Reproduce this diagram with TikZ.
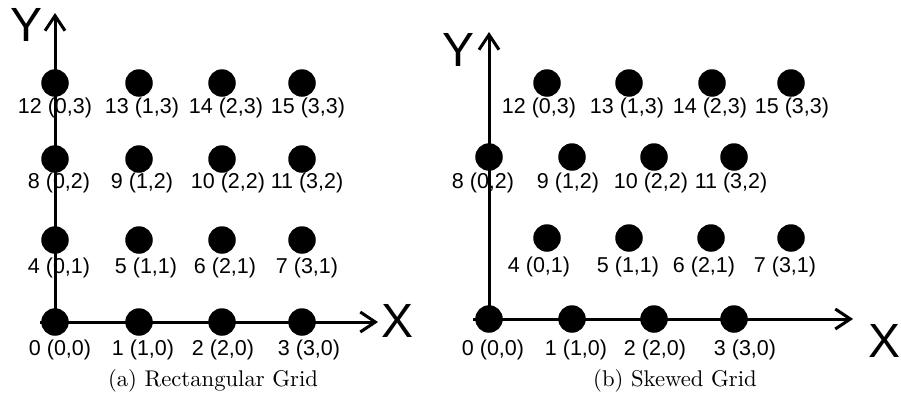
\documentclass[tikz,border=0pt]{standalone}
\usepackage{fontspec}
\newfontfamily\arialf{Liberation Sans}
\newfontfamily\cmten{lmroman10-regular.otf}
\usetikzlibrary{arrows.meta}
\tikzset{
  dot/.style={circle, fill=black, draw=none, minimum size=27.5pt, inner sep=0pt},
  lbl/.style={font=\arialf\fontsize{21.5}{24}\selectfont, inner sep=0pt, anchor=center},
  axislbl/.style={font=\arialf\fontsize{48}{50}\selectfont, inner sep=0pt, anchor=center},
  captext/.style={font=\cmten\fontsize{22.7}{26}\selectfont, inner sep=0pt, anchor=center},
  axisline/.style={line width=3pt, -{Straight Barb[length=15pt, width=20pt]}}
}
\begin{document}
\begin{tikzpicture}[x=1pt,y=-1pt]
\useasboundingbox (0,0) rectangle (901,399);
% ---------- (a) Rectangular grid ----------
\node[lbl] (la12) at (55,108) {12 (0,3)};
\node[lbl] (la13) at (142,108) {13 (1,3)};
\node[lbl] (la14) at (226,108) {14 (2,3)};
\node[lbl] (la15) at (308,108) {15 (3,3)};
\node[lbl] (la8) at (59,183) {8 (0,2)};
\node[lbl] (la9) at (142,183) {9 (1,2)};
\node[lbl] (la10) at (228,183) {10 (2,2)};
\node[lbl] (la11) at (307,183) {11 (3,2)};
\node[lbl] (la4) at (59,268) {4 (0,1)};
\node[lbl] (la5) at (146,268) {5 (1,1)};
\node[lbl] (la6) at (225,268) {6 (2,1)};
\node[lbl] (la7) at (307,268) {7 (3,1)};
\node[lbl] (la0) at (60,350) {0 (0,0)};
\node[lbl] (la1) at (143,350) {1 (1,0)};
\node[lbl] (la2) at (223,350) {2 (2,0)};
\node[lbl] (la3) at (309,350) {3 (3,0)};
\coordinate (aO) at (55,322);
\coordinate (aXs) at (40,322);
\coordinate (aXe) at (378,322);
\coordinate (aYe) at (55,13);
\draw[axisline] (aO) -- (aYe);
\draw[axisline] (aXs) -- (aXe);
\node[axislbl] (aY) at (27,25) {Y};
\node[axislbl] (aX) at (398,321) {X};
\foreach \i/\x/\y in {0/55/322,1/139/322,2/222/322,3/302/322,
                      4/55/240,5/139/240,6/222/240,7/302/240,
                      8/55/159,9/139/159,10/222/159,11/302/159,
                      12/55/83,13/139/83,14/222/83,15/302/83}
  \node[dot] (a\i) at (\x,\y) {};
\node[captext] (capa) at (213,381) {(a) Rectangular Grid};
% ---------- (b) Skewed grid ----------
\node[lbl] (lb12) at (539,108) {12 (0,3)};
\node[lbl] (lb13) at (627,108) {13 (1,3)};
\node[lbl] (lb14) at (710,108) {14 (2,3)};
\node[lbl] (lb15) at (792,108) {15 (3,3)};
\node[lbl] (lb8) at (483,183) {8 (0,2)};
\node[lbl] (lb9) at (568,183) {9 (1,2)};
\node[lbl] (lb10) at (651,183) {10 (2,2)};
\node[lbl] (lb11) at (731,183) {11 (3,2)};
\node[lbl] (lb4) at (539,267) {4 (0,1)};
\node[lbl] (lb5) at (628,267) {5 (1,1)};
\node[lbl] (lb6) at (704,267) {6 (2,1)};
\node[lbl] (lb7) at (785,267) {7 (3,1)};
\node[lbl] (lb0) at (493,350) {0 (0,0)};
\node[lbl] (lb1) at (576,350) {1 (1,0)};
\node[lbl] (lb2) at (655,350) {2 (2,0)};
\node[lbl] (lb3) at (745,350) {3 (3,0)};
\coordinate (bO) at (489,319);
\coordinate (bXs) at (473,319);
\coordinate (bXe) at (853,319);
\coordinate (bYe) at (489,32);
\draw[axisline] (bO) -- (bYe);
\draw[axisline] (bXs) -- (bXe);
\node[axislbl] (bY) at (458,50) {Y};
\node[axislbl] (bX) at (884,341) {X};
\foreach \i/\x/\y in {0/489/319,1/572/319,2/654/319,3/734/319,
                      4/547/238,5/629/238,6/711/238,7/791/238,
                      8/489/157,9/572/157,10/654/157,11/734/157,
                      12/547/83,13/629/83,14/712/83,15/791/83}
  \node[dot] (b\i) at (\x,\y) {};
\node[captext] (capb) at (675,381) {(b) Skewed Grid};
\end{tikzpicture}
\end{document}
